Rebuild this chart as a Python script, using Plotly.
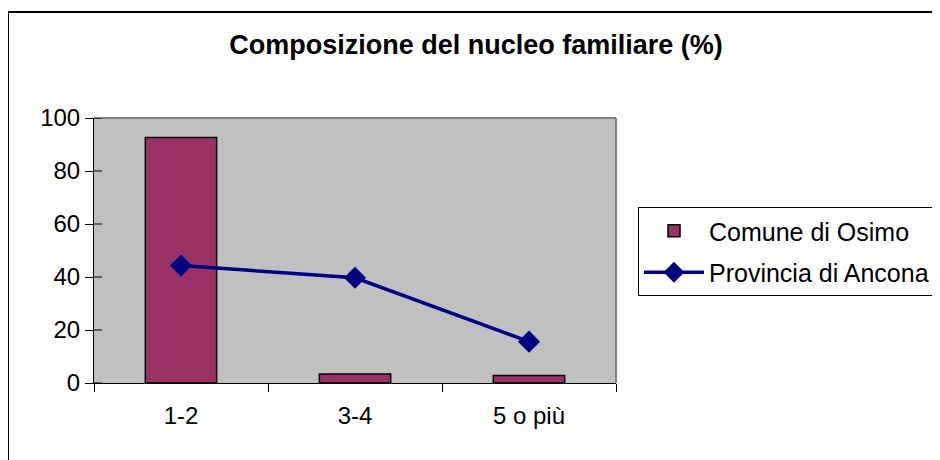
import plotly.graph_objects as go

categories = ["1-2", "3-4", "5 o più"]
comune_osimo = [92.6, 3.4, 2.8]
provincia_ancona = [44.3, 39.7, 15.6]
y_ticks = [0, 20, 40, 60, 80, 100]

W, H = 940, 460
OFF = 8  # page body margin
L, R, T, B = 94 - OFF, 616 - OFF, 118 - OFF, 383 - OFF
pw, ph = R - L, B - T

def px_x(px):
    return (px - OFF - L) / pw

def px_y(py):
    return (B - (py - OFF)) / ph

FONT = "Liberation Sans, Arial, sans-serif"

fig = go.Figure()
fig.add_trace(go.Bar(
    x=categories, y=comune_osimo, name="Comune di Osimo",
    marker=dict(color="#993366", line=dict(color="black", width=1.5)),
    legendgroup="a",
))
fig.add_trace(go.Scatter(
    x=categories, y=provincia_ancona, name="Provincia di Ancona",
    mode="lines+markers",
    line=dict(color="#000080", width=3.5),
    marker=dict(symbol="diamond", size=17, color="#000080"),
    legendgroup="b",
))

shapes = []
# outer chart border
shapes.append(dict(type="rect", xref="paper", yref="paper",
                   x0=px_x(8), x1=px_x(1000), y0=px_y(12), y1=px_y(500),
                   line=dict(color="black", width=2), fillcolor="rgba(0,0,0,0)", layer="below"))
# plot area top and right border (gray)
shapes.append(dict(type="line", xref="paper", yref="paper", x0=0, x1=1, y0=1, y1=1,
                   line=dict(color="#808080", width=2)))
shapes.append(dict(type="line", xref="paper", yref="paper", x0=1, x1=1, y0=0, y1=1,
                   line=dict(color="#808080", width=2)))
# inside part of crossing y ticks
for v in y_ticks:
    shapes.append(dict(type="line", xref="paper", yref="y", x0=0, x1=8 / pw, y0=v, y1=v,
                       line=dict(color="black", width=1)))

fig.update_layout(
    width=W, height=H,
    margin=dict(l=L, r=W - R, t=T, b=H - B, pad=0),
    paper_bgcolor="white", plot_bgcolor="#c0c0c0",
    font=dict(family=FONT, size=24, color="black"),
    title=dict(text="<b>Composizione del nucleo familiare (%)</b>",
               x=(476 - OFF) / W, xanchor="center", xref="container",
               y=1 - (45 - OFF) / H, yanchor="middle", yref="container",
               font=dict(family=FONT, size=27, color="black")),
    bargap=0.59,
    showlegend=True,
    legend=dict(x=px_x(638), xanchor="left", y=px_y(207), yanchor="top",
                bordercolor="black", borderwidth=1, bgcolor="white",
                font=dict(family=FONT, size=25, color="black"),
                itemwidth=60, tracegroupgap=6, traceorder="grouped"),
    shapes=shapes,
)
fig.update_xaxes(showline=True, linecolor="black", linewidth=1,
                 ticks="outside", ticklen=8, tickcolor="black", tickson="boundaries",
                 showgrid=False, zeroline=False, fixedrange=True,
                 tickfont=dict(family=FONT, size=24), ticklabelstandoff=11)
fig.update_yaxes(range=[0, 100], tickvals=y_ticks, showline=True, linecolor="black", linewidth=1,
                 ticks="outside", ticklen=8, tickcolor="black",
                 showgrid=False, zeroline=False, fixedrange=True,
                 tickfont=dict(family=FONT, size=24))

fig.write_html("out.html")
